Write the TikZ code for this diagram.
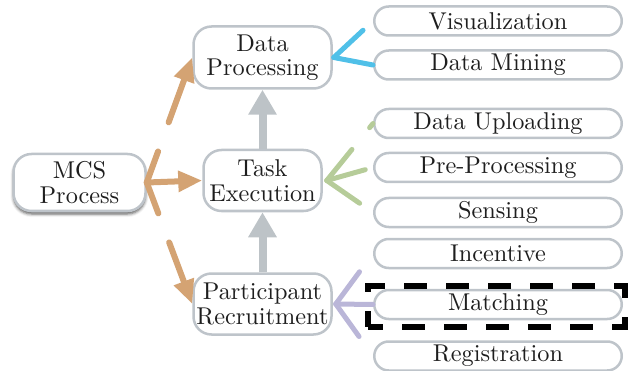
\documentclass[tikz,border=0pt]{standalone}
\usepackage{fontspec}
\setmainfont{lmroman10-regular}[Extension=.otf]
\usetikzlibrary{arrows.meta,shadows.blur}
\definecolor{boxgray}{RGB}{190,196,202}
\definecolor{arrowgray}{RGB}{189,195,199}
\definecolor{cOrange}{RGB}{212,163,115}
\definecolor{cBlue}{RGB}{80,192,232}
\definecolor{cGreen}{RGB}{182,204,153}
\definecolor{cPurple}{RGB}{186,182,216}
\definecolor{txt}{RGB}{30,30,30}
\begin{document}
\begin{tikzpicture}[x=1pt,y=-1pt,
  every node/.style={font=\fontsize{24.3}{24.5}\selectfont, text=txt},
  mainbox/.style={draw=boxgray, line width=2.5pt, fill=white, rounded corners=18pt, align=center, inner sep=0pt},
  leaf/.style={draw=boxgray, line width=2.5pt, fill=white, rounded corners=14.5pt, minimum width=247.5pt, minimum height=29pt, inner sep=0pt},
  focusbox/.style={draw=black, line width=5.5pt, dash pattern=on 23pt off 19pt, dash phase=8pt, minimum width=257pt, minimum height=41pt, inner sep=0pt},
  uparrow/.style={draw=arrowgray, line width=8pt, -{Triangle[width=27pt,length=25pt]}},
  orangearrow/.style={draw=cOrange, line width=6pt, line cap=round, -{Triangle[width=20pt,length=24pt]}},
  ray/.style={line width=5pt, line cap=round, dash pattern=on 40pt off 28pt}
]
\useasboundingbox (0,0) rectangle (628,371);

% main nodes
\node[mainbox, minimum width=132pt, minimum height=57pt,
      blur shadow={shadow xshift=0pt, shadow yshift=-3pt, shadow blur radius=3pt, shadow opacity=65}]
      (mcs) at (79.5,182.5) {MCS\\Process};
\node[mainbox, minimum width=138pt, minimum height=62pt] (dp) at (262.5,57.5) {Data\\Processing};
\node[mainbox, minimum width=118pt, minimum height=61pt] (te) at (262.5,180.5) {Task\\Execution};
\node[mainbox, minimum width=138pt, minimum height=61pt] (pr) at (262.5,304) {Participant\\Recruitment};

% leaves
\node[leaf] (vis) at (498,21) {Visualization};
\node[leaf] (dm)  at (498,65) {Data Mining};
\node[leaf] (du)  at (498,123.5) {Data Uploading};
\node[leaf] (pp)  at (498,167.5) {Pre-Processing};
\node[leaf] (se)  at (498,212.5) {Sensing};
\node[leaf] (inc) at (498,253.5) {Incentive};
\node[leaf] (ma)  at (498,304.5) {Matching};
\node[leaf] (reg) at (498,356) {Registration};

% highlight box
\node[focusbox] (focus) at (496.5,306.5) {};

% vertical arrows
\draw[uparrow] (te.north) -- (dp.south);
\draw[uparrow] (pr.north) -- (te.south);

% orange arrows
\draw[orangearrow, dash pattern=on 33pt off 31pt on 300pt] (mcs.east) -- (dp.west);
\draw[orangearrow] (mcs.east) -- (te.west);
\draw[orangearrow, dash pattern=on 33pt off 31pt on 300pt] (mcs.east) -- (pr.west);

% rays
\draw[ray, cBlue] ([xshift=1pt]dp.east) -- (vis.west);
\draw[ray, cBlue] ([xshift=1pt]dp.east) -- (dm.west);
\draw[ray, cGreen] ([xshift=4pt]te.east) -- (du.west);
\draw[ray, cGreen] ([xshift=4pt]te.east) -- (pp.west);
\draw[ray, cGreen] ([xshift=4pt]te.east) -- (se.west);
\draw[ray, cPurple] ([xshift=3pt]pr.east) -- (inc.west);
\draw[ray, cPurple] ([xshift=3pt]pr.east) -- (ma.west);
\draw[ray, cPurple] ([xshift=3pt]pr.east) -- (reg.west);
\end{tikzpicture}
\end{document}
